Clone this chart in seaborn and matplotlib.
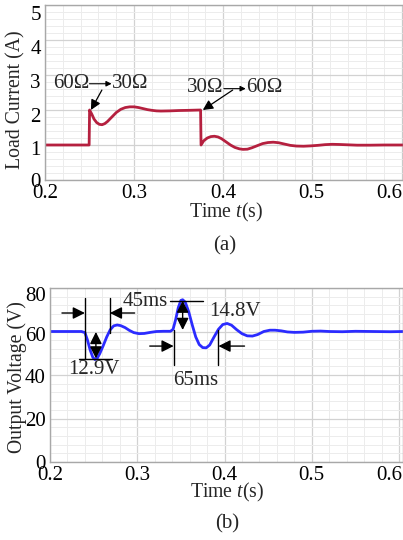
import numpy as np
import pandas as pd
import matplotlib
matplotlib.use("Agg")
import matplotlib.pyplot as plt
import matplotlib.transforms as mtransforms
from matplotlib.ticker import MultipleLocator
import seaborn as sns

# ---- data: load current (panel a) ----
t_current = [0.200, 0.2495, 0.2500, 0.2525, 0.255, 0.258, 0.261, 0.264, 0.267, 0.270,
             0.275, 0.280, 0.285, 0.290, 0.295, 0.300, 0.305, 0.310, 0.315, 0.320,
             0.325, 0.330, 0.340, 0.350, 0.360, 0.3745, 0.3750, 0.378, 0.382, 0.386,
             0.390, 0.394, 0.398, 0.403, 0.408, 0.413, 0.418, 0.422, 0.427, 0.432,
             0.438, 0.444, 0.450, 0.456, 0.462, 0.468, 0.475, 0.482, 0.490, 0.498,
             0.506, 0.514, 0.522, 0.530, 0.540, 0.550, 0.565, 0.580, 0.605]
i_current = [1.00, 1.00, 2.00, 1.88, 1.74, 1.64, 1.59, 1.58, 1.61, 1.67,
             1.80, 1.93, 2.02, 2.07, 2.09, 2.09, 2.07, 2.04, 2.01, 1.99,
             1.975, 1.97, 1.975, 1.985, 1.99, 2.00, 1.00, 1.12, 1.20, 1.24,
             1.25, 1.23, 1.18, 1.09, 1.00, 0.93, 0.89, 0.875, 0.88, 0.92,
             0.98, 1.04, 1.07, 1.08, 1.065, 1.03, 0.99, 0.97, 0.965, 0.975,
             0.99, 1.01, 1.02, 1.015, 1.005, 0.995, 0.995, 1.00, 1.00]

# ---- data: output voltage (panel b) ----
t_voltage = [0.200, 0.236, 0.240, 0.243, 0.246, 0.249, 0.2515, 0.254, 0.257, 0.261,
             0.265, 0.269, 0.273, 0.277, 0.281, 0.286, 0.291, 0.296, 0.302, 0.308,
             0.315, 0.322, 0.330, 0.338, 0.341, 0.344, 0.347, 0.350, 0.352, 0.355,
             0.359, 0.363, 0.367, 0.371, 0.375, 0.379, 0.383, 0.388, 0.393, 0.398,
             0.403, 0.408, 0.414, 0.420, 0.426, 0.432, 0.438, 0.445, 0.452, 0.458,
             0.465, 0.472, 0.480, 0.490, 0.500, 0.510, 0.520, 0.535, 0.550, 0.570,
             0.590, 0.605]
v_voltage = [60.0, 60.0, 59.5, 56.0, 51.5, 48.2, 47.1, 47.6, 49.8, 53.5,
             57.5, 60.8, 62.6, 63.0, 62.7, 61.8, 60.5, 59.5, 59.0, 59.1,
             59.6, 60.0, 60.1, 60.1, 61.0, 65.5, 71.0, 74.3, 74.6, 73.5,
             69.0, 63.0, 57.5, 54.0, 52.6, 52.5, 53.8, 57.5, 61.0, 63.2,
             63.7, 62.9, 60.8, 59.0, 58.0, 57.9, 58.6, 60.0, 60.6, 60.6,
             60.3, 59.8, 59.6, 59.7, 60.1, 60.2, 60.0, 59.9, 60.1, 60.0,
             59.9, 60.0]

x_ticks = [0.2, 0.3, 0.4, 0.5, 0.6]
x_tick_labels = ["0.2", "0.3", "0.4", "0.5", "0.6"]
current_ticks = [0, 1, 2, 3, 4, 5]
voltage_ticks = [0, 20, 40, 60, 80]

df_i = pd.DataFrame({"t": t_current, "i": i_current})
df_v = pd.DataFrame({"t": t_voltage, "v": v_voltage})

sns.set_theme(style="whitegrid")
plt.rcParams["font.family"] = ["Liberation Serif", "DejaVu Serif"]
plt.rcParams["mathtext.fontset"] = "custom"
plt.rcParams["mathtext.rm"] = "Liberation Serif"
plt.rcParams["mathtext.it"] = "Liberation Serif:italic"

FS_TICK = 15
FS_LAB = 14.2
FS_ANN = 15
fig = plt.figure(figsize=(4.03, 5.40), dpi=100)
ax1 = fig.add_axes([45 / 403, 1 - 180 / 540, 358 / 403, 175 / 540])
ax2 = fig.add_axes([50 / 403, 1 - 462 / 540, 353 / 403, 174 / 540])

def style(ax, yticks, ymax, yminor, xmax):
    ax.set_facecolor("white")
    ax.set_xlim(0.2, xmax)
    ax.set_ylim(0, ymax)
    ax.set_xticks(x_ticks)
    ax.set_xticklabels(x_tick_labels)
    ax.set_yticks(yticks)
    ax.xaxis.set_minor_locator(MultipleLocator(0.02))
    ax.yaxis.set_minor_locator(MultipleLocator(yminor))
    ax.grid(True, which="major", color="#d2d2d2", linewidth=0.9)
    ax.grid(True, which="minor", color="#ececec", linewidth=0.7)
    ax.set_axisbelow(True)
    for s in ax.spines.values():
        s.set_color("#a8a8a8")
        s.set_linewidth(1.0)
    ax.tick_params(axis="both", which="both", length=0, labelsize=FS_TICK,
                   colors="black", pad=3)

style(ax1, current_ticks, 5, 0.2, 0.6015)
style(ax2, voltage_ticks, 80, 4, 0.6045)

sns.lineplot(data=df_i, x="t", y="i", ax=ax1, color="#b5203f", linewidth=2.0,
             estimator=None, sort=False)
sns.lineplot(data=df_v, x="t", y="v", ax=ax2, color="#2b2bff", linewidth=2.0,
             estimator=None, sort=False)

# small shifts of tick labels as in the reference
def shift_labels(labels, dx_px, dy_px):
    for lab, dx, dy in zip(labels, dx_px, dy_px):
        off = mtransforms.ScaledTranslation(dx / 100.0, -dy / 100.0,
                                            fig.dpi_scale_trans)
        lab.set_transform(lab.get_transform() + off)

shift_labels(ax1.get_yticklabels(), [0] * 6, [0, 3, 5, 6, 7, 8])
shift_labels(ax2.get_yticklabels(), [0] * 5, [0, 1, 1, 3, 6])
shift_labels(ax1.get_xticklabels(), [0, 0, 0, -1, -12], [0] * 5)
shift_labels(ax2.get_xticklabels(), [0, 0, 0, 0, -10], [0] * 5)

ax1.set_xlabel("Time $\\mathit{t}$(s)", fontsize=FS_LAB)
ax1.xaxis.set_label_coords(0.506, -0.185)
ax1.xaxis.label.set_va("center")
ax1.set_ylabel("Load Current (A)", fontsize=FS_LAB)
ax1.yaxis.set_label_coords(-0.081, 0.457)
ax1.yaxis.label.set_va("center")

ax2.set_xlabel("Time $\\mathit{t}$(s)", fontsize=FS_LAB)
ax2.xaxis.set_label_coords(0.501, -0.178)
ax2.xaxis.label.set_va("center")
ax2.set_ylabel("Output Voltage (V)", fontsize=FS_LAB)
ax2.yaxis.set_label_coords(-0.092, 0.489)
ax2.yaxis.label.set_va("center")

fig.text(225 / 403, 1 - 246 / 540, "(a)", ha="center", va="center", fontsize=FS_ANN)
fig.text(227 / 403, 1 - 524 / 540, "(b)", ha="center", va="center", fontsize=FS_ANN)

# ---- panel (a) annotations ----
txt_arrow = dict(arrowstyle="-|>", color="black", lw=0.8, mutation_scale=8,
                 shrinkA=0, shrinkB=0)
ax1.text(0.2496, 2.77, "60Ω", ha="right", va="center", fontsize=FS_ANN)
ax1.text(0.2747, 2.77, "30Ω", ha="left", va="center", fontsize=FS_ANN)
ax1.annotate("", xy=(0.2747, 2.75), xytext=(0.2498, 2.75), arrowprops=txt_arrow)
ax1.text(0.4004, 2.63, "30Ω", ha="right", va="center", fontsize=FS_ANN)
ax1.text(0.4251, 2.63, "60Ω", ha="left", va="center", fontsize=FS_ANN)
ax1.annotate("", xy=(0.4251, 2.61), xytext=(0.4006, 2.61), arrowprops=txt_arrow)

arr = dict(arrowstyle="-|>", color="black", lw=0.9, mutation_scale=15,
           shrinkA=0, shrinkB=0)
ax1.annotate("", xy=(0.2515, 2.0), xytext=(0.2638, 2.57), arrowprops=arr)
ax1.annotate("", xy=(0.377, 2.0), xytext=(0.4105, 2.57), arrowprops=arr)

# ---- panel (b) annotations ----
lk = dict(color="black", lw=1.0)
ax2.plot([0.240, 0.240], [47.4, 75.4], **lk)
ax2.plot([0.2686, 0.2686], [59.3, 75.4], **lk)
ax2.plot([0.2331, 0.271], [47.4, 47.4], **lk)
ax2.plot([0.337, 0.375], [74.2, 74.2], **lk)
ax2.plot([0.3417, 0.3417], [44.6, 60.7], **lk)
ax2.plot([0.393, 0.393], [44.6, 60.7], **lk)
arr2 = dict(arrowstyle="-|>", color="black", lw=1.0, mutation_scale=18,
            shrinkA=0, shrinkB=0)
darr = dict(arrowstyle="<|-|>", color="black", lw=1.0, mutation_scale=18,
            shrinkA=0, shrinkB=0)
ax2.annotate("", xy=(0.240, 68.5), xytext=(0.2137, 68.5), arrowprops=arr2)
ax2.annotate("", xy=(0.2686, 68.5), xytext=(0.297, 68.5), arrowprops=arr2)
ax2.annotate("", xy=(0.3417, 53.3), xytext=(0.3143, 53.3), arrowprops=arr2)
ax2.annotate("", xy=(0.393, 53.3), xytext=(0.4229, 53.3), arrowprops=arr2)
ax2.annotate("", xy=(0.2526, 47.6), xytext=(0.2526, 59.8), arrowprops=darr)
ax2.annotate("", xy=(0.352, 74.2), xytext=(0.352, 60.7), arrowprops=darr)
ax2.text(0.3086, 73.6, "45ms", ha="center", va="center", fontsize=FS_ANN)
ax2.text(0.2503, 42.3, "12.9V", ha="center", va="center", fontsize=FS_ANN)
ax2.text(0.4114, 69.0, "14.8V", ha="center", va="center", fontsize=FS_ANN)
ax2.text(0.3669, 37.7, "65ms", ha="center", va="center", fontsize=FS_ANN)

fig.savefig("out.png", dpi=100, facecolor="white")
